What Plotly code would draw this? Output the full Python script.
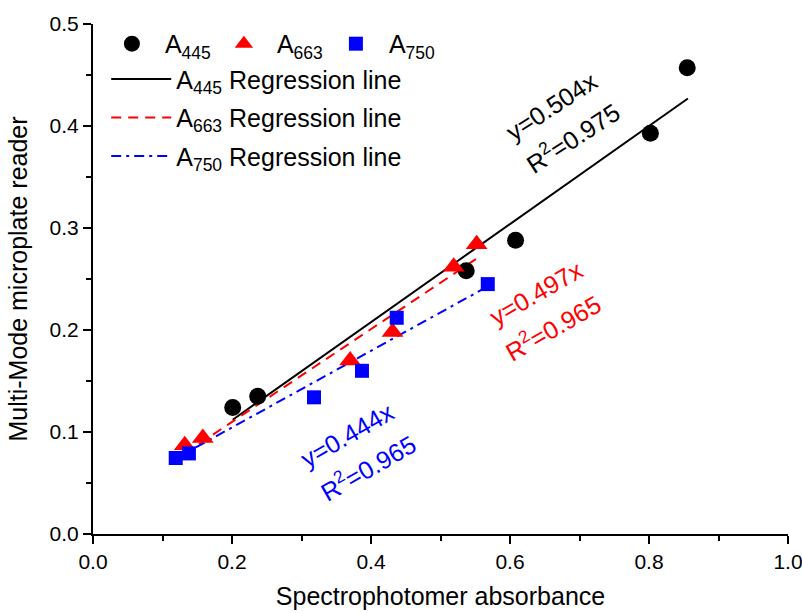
import plotly.graph_objects as go

# ---- data ----
x445 = [0.201, 0.237, 0.537, 0.608, 0.802, 0.855]
y445 = [0.124, 0.135, 0.258, 0.288, 0.393, 0.457]
x663 = [0.132, 0.158, 0.370, 0.431, 0.519, 0.552]
y663 = [0.087, 0.094, 0.170, 0.198, 0.262, 0.284]
x750 = [0.119, 0.138, 0.318, 0.387, 0.437, 0.568]
y750 = [0.0745, 0.079, 0.134, 0.160, 0.212, 0.245]

fit445_x = [0.201, 0.856]
fit445_y = [0.112, 0.427]
fit663_x = [0.132, 0.552]
fit663_y = [0.079, 0.270]
fit750_x = [0.119, 0.566]
fit750_y = [0.074, 0.242]

x_ticks = [0.0, 0.2, 0.4, 0.6, 0.8, 1.0]
y_ticks = [0.0, 0.1, 0.2, 0.3, 0.4, 0.5]

FONT = "Liberation Sans, Arial, sans-serif"

fig = go.Figure()

# regression lines (legend2)
fig.add_trace(go.Scatter(x=fit445_x, y=fit445_y, mode="lines",
                         line=dict(color="black", width=2), legendgroup="g1",
                         name="A<sub>445</sub> Regression line", legend="legend2"))
fig.add_trace(go.Scatter(x=fit663_x, y=fit663_y, mode="lines",
                         line=dict(color="red", width=2, dash="10px,7px"), legendgroup="g2",
                         name="A<sub>663</sub> Regression line", legend="legend2"))
fig.add_trace(go.Scatter(x=fit750_x, y=fit750_y, mode="lines",
                         line=dict(color="blue", width=2, dash="10px,5px,3px,5px"), legendgroup="g3",
                         name="A<sub>750</sub> Regression line", legend="legend2"))

# scatter points (legend 1)
fig.add_trace(go.Scatter(x=x445, y=y445, mode="markers",
                         marker=dict(symbol="circle", size=17, color="black"),
                         name="A<sub>445</sub>", legend="legend"))
fig.add_trace(go.Scatter(x=x663, y=y663, mode="markers",
                         marker=dict(symbol="triangle-up", size=19, color="red"),
                         name="A<sub>663</sub>", legend="legend"))
fig.add_trace(go.Scatter(x=x750, y=y750, mode="markers",
                         marker=dict(symbol="square", size=14, color="blue"),
                         name="A<sub>750</sub>", legend="legend"))

ann_font = 25
annotations = [
    dict(x=0.660, y=0.420, text="y=0.504x", textangle=-33, font=dict(color="black", size=ann_font)),
    dict(x=0.690, y=0.389, text="R<sup>2</sup>=0.975", textangle=-33, font=dict(color="black", size=ann_font)),
    dict(x=0.638, y=0.236, text="y=0.497x", textangle=-30, font=dict(color="red", size=ann_font)),
    dict(x=0.661, y=0.203, text="R<sup>2</sup>=0.965", textangle=-30, font=dict(color="red", size=ann_font)),
    dict(x=0.366, y=0.097, text="y=0.444x", textangle=-30, font=dict(color="blue", size=ann_font)),
    dict(x=0.395, y=0.066, text="R<sup>2</sup>=0.965", textangle=-30, font=dict(color="blue", size=ann_font)),
]
for a in annotations:
    a.update(xref="x", yref="y", showarrow=False, xanchor="center", yanchor="middle")

axis_common = dict(
    showline=True, linecolor="black", linewidth=2,
    ticks="outside", ticklen=8, tickwidth=2, tickcolor="black",
    showgrid=False, zeroline=False, mirror=False, automargin=False,
    ticklabeloverflow="allow",
    tickfont=dict(family=FONT, size=21, color="black"),
    tickformat=".1f",
)

fig.update_layout(
    width=802, height=613,
    margin=dict(l=93, r=14, t=24, b=79),
    paper_bgcolor="white", plot_bgcolor="white",
    font=dict(family=FONT, color="black", size=20),
    xaxis=dict(range=[0, 1], tickvals=x_ticks,
               minor=dict(ticks="outside", dtick=0.1, ticklen=5, tickwidth=2, tickcolor="black"),
               title=dict(text="Spectrophotomer absorbance", font=dict(size=25)),
               **axis_common),
    yaxis=dict(range=[0, 0.5], tickvals=y_ticks,
               minor=dict(ticks="outside", dtick=0.05, ticklen=5, tickwidth=2, tickcolor="black"),
               title=dict(text="Multi-Mode microplate reader", font=dict(size=25)),
               **axis_common),
    legend=dict(orientation="h", x=0.0085, y=1.006, xanchor="left", yanchor="top",
                bgcolor="rgba(0,0,0,0)", font=dict(size=25), itemwidth=56,
                entrywidth=41, traceorder="normal"),
    legend2=dict(orientation="v", x=0.019, y=0.937, xanchor="left", yanchor="top",
                 bgcolor="rgba(0,0,0,0)", font=dict(size=25), itemwidth=60,
                 traceorder="grouped", tracegroupgap=3),
    annotations=annotations,
    showlegend=True,
)

fig.write_html("out.html")
